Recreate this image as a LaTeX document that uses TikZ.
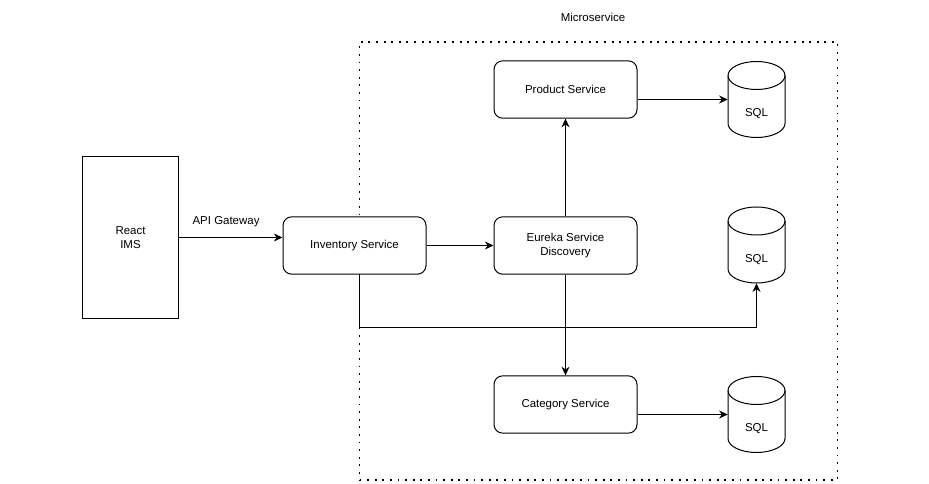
\documentclass[tikz,border=0pt]{standalone}
\usepackage{fontspec}
\setmainfont{Liberation Sans}
\usetikzlibrary{positioning, calc, arrows.meta}

% reference pixels -> 1px
\begin{document}
\begin{tikzpicture}[
    x=0.75pt, y=-0.75pt,
    service/.style={rectangle, rounded corners=6.5pt, draw=black, fill=white, line width=0.75pt, minimum width=107.25pt, minimum height=43pt, font=\fontsize{8.6}{11}\selectfont, align=center},
    client/.style={rectangle, draw=black, line width=0.75pt, minimum width=71.5pt, minimum height=121.5pt, font=\fontsize{8.6}{11}\selectfont, align=center},
    label/.style={font=\fontsize{8.6}{11}\selectfont},
    store/.style={minimum width=42.75pt, minimum height=57pt, inner sep=0pt},
    arrow/.style={-{Stealth[length=6.5pt,width=6pt]}, line width=0.75pt},
    cylline/.style={draw=black, fill=white, line width=0.75pt}
]
    \useasboundingbox (0,0) rectangle (929,484);

    % Microservice frame
    \node[rectangle, draw=black, line width=1.2pt, dash pattern=on 1.4pt off 4.3pt, minimum width=358.5pt, minimum height=328.5pt] (frame) at (598.5,261) {};
    \node[label] (title) at (593,17) {Microservice};

    % Client and services
    \node[client] (react) at (130.5,237.5) {React\\IMS};
    \node[service] (inventory) at (354.5,245.5) {Inventory Service};
    \node[service] (eureka) at (565.5,245.5) {Eureka Service\\Discovery};
    \node[service] (product) at (565.5,89.5) {Product Service};
    \node[service] (category) at (565.5,404.5) {Category Service};

    % Databases
    \foreach \name/\y in {sqla/99.5, sqlb/245, sqlc/414.5} {
        \path[cylline] (728,\y-24) arc[start angle=180, end angle=360, x radius=28.5, y radius=14]
            -- (785,\y+24) arc[start angle=0, end angle=180, x radius=28.5, y radius=14] -- cycle;
        \draw[line width=0.75pt] (728,\y-24) arc[start angle=180, end angle=0, x radius=28.5, y radius=14];
        \node[store] (\name) at (756.5,\y) {};
        \node[label] (\name text) at (756.5,\y+14.5) {SQL};
    }

    % Connections
    \draw[arrow] (react.east) -- node[label, above=4pt, xshift=-3.4pt] (gateway) {API Gateway} (react.east -| inventory.west);
    \draw[arrow] (inventory) -- (eureka);
    \draw[arrow] (eureka) -- (product);
    \draw[arrow] (eureka) -- (category);
    \draw[arrow] (product.east |- sqla.west) -- (sqla.west);
    \draw[arrow] (category.east |- sqlc.west) -- (sqlc.west);
    \draw[arrow] ($(inventory.south)+(5,0)$) |- ($(sqlb.south)+(0,44)$) -- (sqlb.south);
\end{tikzpicture}
\end{document}
